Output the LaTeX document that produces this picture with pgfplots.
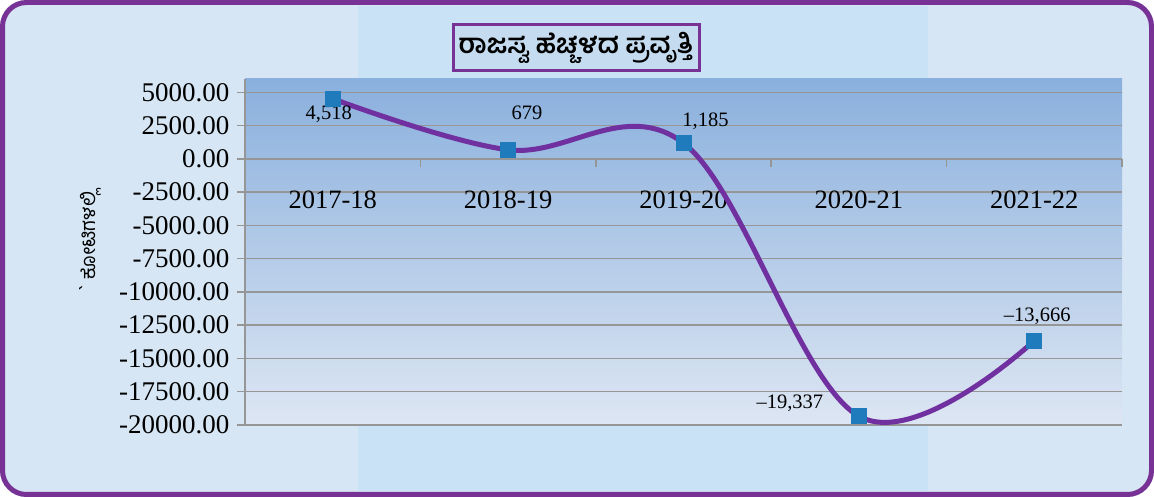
\documentclass[border=0pt]{standalone}
\usepackage{fontspec}
\usepackage{pgfplots}
\pgfplotsset{compat=1.18}
\setmainfont{Liberation Serif}
\newfontfamily\kan[Script=Kannada]{Hind Mysuru}
\definecolor{bgouter}{RGB}{214,230,244}
\definecolor{bgcenter}{RGB}{201,226,245}
\definecolor{frame}{RGB}{120,50,150}
\definecolor{linepurple}{RGB}{112,48,160}
\definecolor{markblue}{RGB}{31,123,187}
\definecolor{gridgray}{RGB}{150,150,150}
\definecolor{topblue}{RGB}{138,176,221}
\definecolor{botblue}{RGB}{221,230,243}
\definecolor{titlefill}{RGB}{197,220,240}
\begin{document}
\begin{tikzpicture}
\useasboundingbox (0,0) rectangle (1154pt,497pt);
\fill[bgouter, rounded corners=26pt] (0,0) rectangle (1154pt,497pt);
\fill[bgcenter] (358pt,6pt) rectangle (928pt,491pt);
\begin{axis}[
  at={(245pt,72pt)}, anchor=south west,
  scale only axis, width=877pt, height=346pt,
  xmin=-0.5, xmax=4.5, ymin=-20000, ymax=6000,
  axis y line*=left, axis x line*=middle,
  axis line style={draw=gridgray, line width=1.5pt},
  axis background/.style={shade, top color=topblue, bottom color=botblue},
  clip=false,
  xtick=data,
  xticklabels={2017-18,2018-19,2019-20,2020-21,2021-22},
  xticklabel style={font=\fontsize{26.5}{30}\selectfont, yshift=-29pt},
  xtick style={draw=none},
  ytick={-20000,-17500,-15000,-12500,-10000,-7500,-5000,-2500,0,2500,5000},
  ytick align=outside,
  ytick style={draw=gridgray, line width=1.5pt},
  major tick length=8pt,
  ymajorgrids,
  grid style={draw=gridgray, line width=1.5pt},
  scaled y ticks=false,
  yticklabel style={font=\fontsize{27}{30}\selectfont, xshift=-4pt},
  /pgf/number format/assume math mode=true,
  y tick label style={/pgf/number format/.cd, fixed, fixed zerofill, precision=2, 1000 sep={}},
]
\addplot[color=linepurple, line width=5pt, smooth, tension=0.6,
  mark=square*, mark size=7.5pt,
  mark options={fill=markblue, draw=markblue, line width=0pt, solid}]
  coordinates {(0,4518) (1,679) (2,1185) (3,-19337) (4,-13666)};
\pgfplotsinvokeforeach{0.5,1.5,2.5,3.5,4.5}{
  \draw[gridgray, line width=1.5pt] (axis cs:#1,0) -- ([yshift=-8pt]axis cs:#1,0);
}
\begin{scope}[every node/.style={font=\fontsize{20.5}{23}\selectfont}]
\node[xshift=-4pt, yshift=-16pt] at (axis cs:0,4518) {4,518};
\node[xshift=19pt, yshift=37pt] at (axis cs:1,679) {679};
\node[xshift=22pt, yshift=22pt] at (axis cs:2,1185) {1,185};
\node[xshift=-69pt, yshift=13pt] at (axis cs:3,-19337) {\textendash19,337};
\node[xshift=3pt, yshift=24pt] at (axis cs:4,-13666) {\textendash13,666};
\end{scope}
\end{axis}
\node[draw=frame, line width=3pt, fill=titlefill, minimum width=246pt, minimum height=46pt, inner sep=0pt]
  at (576pt,449pt) {\kan\bfseries\fontsize{27}{30}\selectfont ರಾಜಸ್ವ ಹೆಚ್ಚಳದ ಪ್ರವೃತ್ತಿ};
\node[rotate=90] at (90pt,255pt) {\kan\fontsize{20}{24}\selectfont `\hspace{5pt}ಕೋಟಿಗಳಲ್ಲಿ};
\draw[frame, line width=5pt, rounded corners=24pt] (2.5pt,2.5pt) rectangle (1151.5pt,494.5pt);
\end{tikzpicture}
\end{document}
